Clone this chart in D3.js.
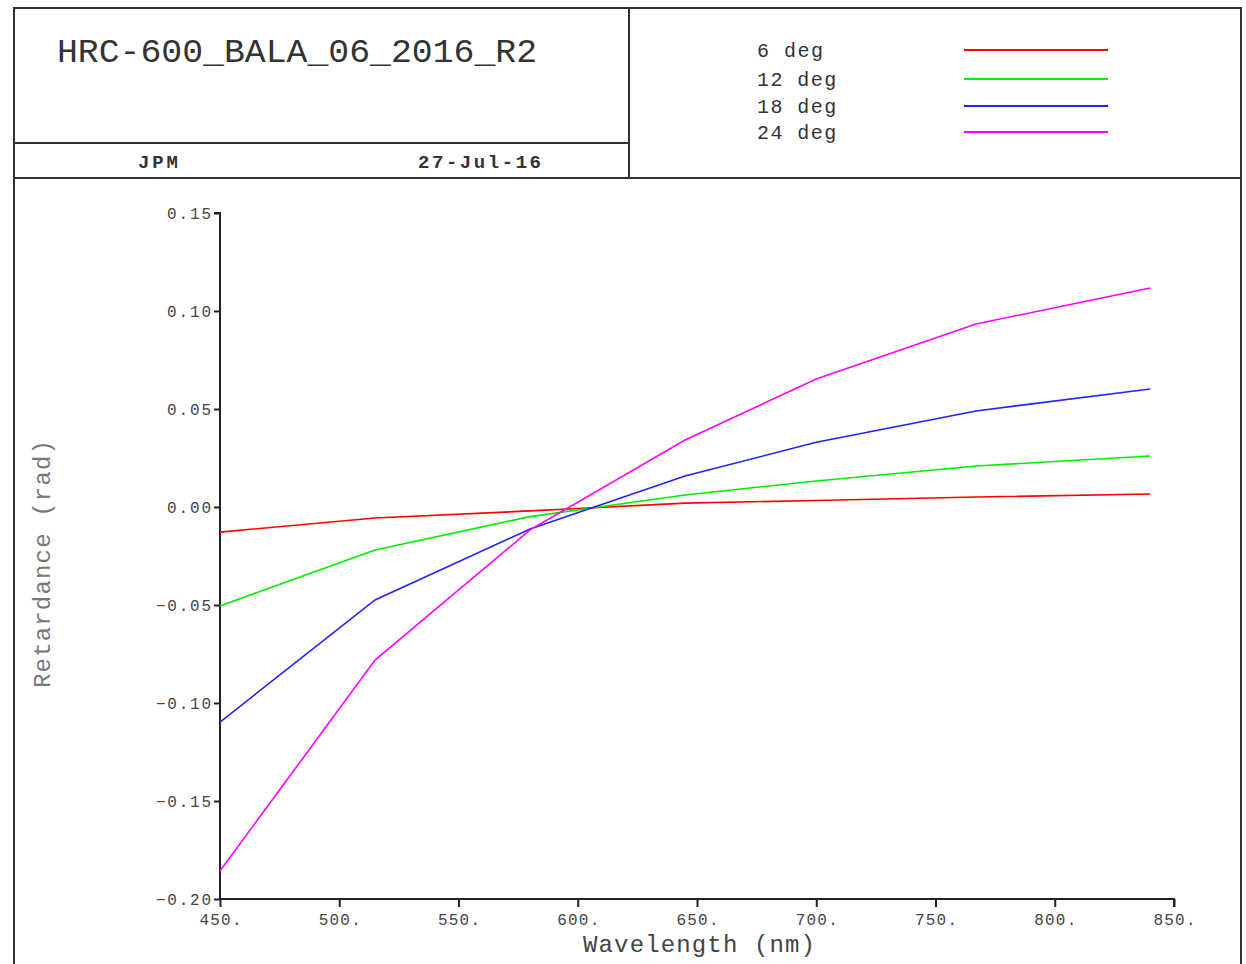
<!DOCTYPE html>
<html>
<head>
<meta charset="utf-8">
<script src="https://cdn.jsdelivr.net/npm/d3@7"></script>
<style>
  html, body { margin: 0; padding: 0; background: #fff; }
  svg { display: block; }
  text { font-family: "Liberation Mono", "DejaVu Sans Mono", monospace; }
</style>
</head>
<body>
<script>
// Wavelength sample points (nm)
const wavelengths = [450, 515, 580, 645, 700, 767, 840];

// Retardance (rad) per incidence angle
const seriesNames = ["6 deg", "12 deg", "18 deg", "24 deg"];
const seriesColors = ["#ff0000", "#00ee00", "#2222ff", "#ff00ff"];
const ret6 = [-0.0128, -0.0056, -0.0020, 0.0020, 0.0033, 0.0051, 0.0066];
const ret12 = [-0.0505, -0.0219, -0.0049, 0.0061, 0.0133, 0.0209, 0.0260];
const ret18 = [-0.1097, -0.0474, -0.0112, 0.0158, 0.0330, 0.0490, 0.0602];
const ret24 = [-0.1857, -0.0781, -0.0117, 0.0342, 0.0653, 0.0934, 0.1117];
const seriesValues = [ret6, ret12, ret18, ret24];

const xTicks = [450, 500, 550, 600, 650, 700, 750, 800, 850];
const yTicks = [-0.20, -0.15, -0.10, -0.05, 0.00, 0.05, 0.10, 0.15];

const W = 1246, H = 964;
const svg = d3.select("body").append("svg").attr("width", W).attr("height", H);

const frame = "#333";
// Header frame and outer border
svg.append("rect").attr("x", 14).attr("y", 8).attr("width", 1227).attr("height", 980)
  .attr("fill", "none").attr("stroke", frame).attr("stroke-width", 2);
svg.append("line").attr("x1", 14).attr("x2", 1241).attr("y1", 178).attr("y2", 178)
  .attr("stroke", frame).attr("stroke-width", 2);
svg.append("line").attr("x1", 629).attr("x2", 629).attr("y1", 8).attr("y2", 178)
  .attr("stroke", frame).attr("stroke-width", 2);
svg.append("line").attr("x1", 14).attr("x2", 629).attr("y1", 143).attr("y2", 143)
  .attr("stroke", frame).attr("stroke-width", 2);

// Title block
svg.append("text").attr("x", 57).attr("y", 62).attr("font-size", 34)
  .attr("fill", "#333").attr("textLength", 480).attr("lengthAdjust", "spacingAndGlyphs")
  .text("HRC-600_BALA_06_2016_R2");
svg.append("text").attr("x", 138).attr("y", 168).attr("font-size", 19).attr("font-weight", "bold")
  .attr("fill", "#333").attr("textLength", 40).attr("lengthAdjust", "spacing").text("JPM");
svg.append("text").attr("x", 418).attr("y", 168).attr("font-size", 19).attr("font-weight", "bold")
  .attr("fill", "#333").attr("textLength", 123).attr("lengthAdjust", "spacing").text("27-Jul-16");

// Legend
const legY = [50, 79, 106, 132];
seriesNames.forEach((name, i) => {
  svg.append("text").attr("x", 757).attr("y", legY[i] + 7).attr("font-size", 20)
    .attr("fill", "#333").attr("textLength", name.length * 13.2).attr("lengthAdjust", "spacing")
    .text(name);
  svg.append("line").attr("x1", 964).attr("x2", 1108).attr("y1", legY[i]).attr("y2", legY[i])
    .attr("stroke", seriesColors[i]).attr("stroke-width", 2);
});

// Plot scales
const x = d3.scaleLinear().domain([450, 850]).range([220, 1174]);
const y = d3.scaleLinear().domain([-0.20, 0.15]).range([899, 213]);

// Y axis
const yAxis = svg.append("g").attr("transform", "translate(220,0)")
  .call(d3.axisLeft(y).tickValues(yTicks).tickSize(6).tickPadding(3)
    .tickFormat(d => d3.format(".2f")(d)));
yAxis.select(".domain").attr("stroke", "#222").attr("stroke-width", 2)
  .attr("d", `M-6,${y(0.15)}H0V${y(-0.20)}`);
yAxis.selectAll(".tick line").attr("stroke", "#222").attr("stroke-width", 2);
yAxis.selectAll(".tick text").attr("font-size", 16).attr("fill", "#444")
  .attr("font-family", "Liberation Mono, monospace")
  .attr("textLength", function(d) { return (d < 0 ? 5 : 4) * 11; })
  .attr("lengthAdjust", "spacing");

// X axis
const xAxis = svg.append("g").attr("transform", "translate(0,899)")
  .call(d3.axisBottom(x).tickValues(xTicks).tickSize(8).tickPadding(7)
    .tickFormat(d => d + "."));
xAxis.select(".domain").attr("stroke", "#222").attr("stroke-width", 2)
  .attr("d", `M${x(450)},0H${x(850)}V8`);
xAxis.selectAll(".tick line").attr("stroke", "#222").attr("stroke-width", 2);
xAxis.selectAll(".tick text").attr("font-size", 16).attr("fill", "#444")
  .attr("font-family", "Liberation Mono, monospace")
  .attr("textLength", 42).attr("lengthAdjust", "spacing");

// Axis titles
svg.append("text").attr("x", 583).attr("y", 952).attr("font-size", 24)
  .attr("fill", "#444").attr("textLength", 232).attr("lengthAdjust", "spacing")
  .text("Wavelength (nm)");
svg.append("text").attr("transform", "translate(50,688) rotate(-90)")
  .attr("font-size", 24).attr("fill", "#777")
  .attr("textLength", 248).attr("lengthAdjust", "spacing")
  .text("Retardance (rad)");

// Series lines
const line = d3.line().x((d, i) => x(wavelengths[i])).y(d => y(d));
seriesValues.forEach((vals, i) => {
  svg.append("path").datum(vals).attr("d", line)
    .attr("fill", "none").attr("stroke", seriesColors[i]).attr("stroke-width", 1.6);
});
</script>
</body>
</html>
